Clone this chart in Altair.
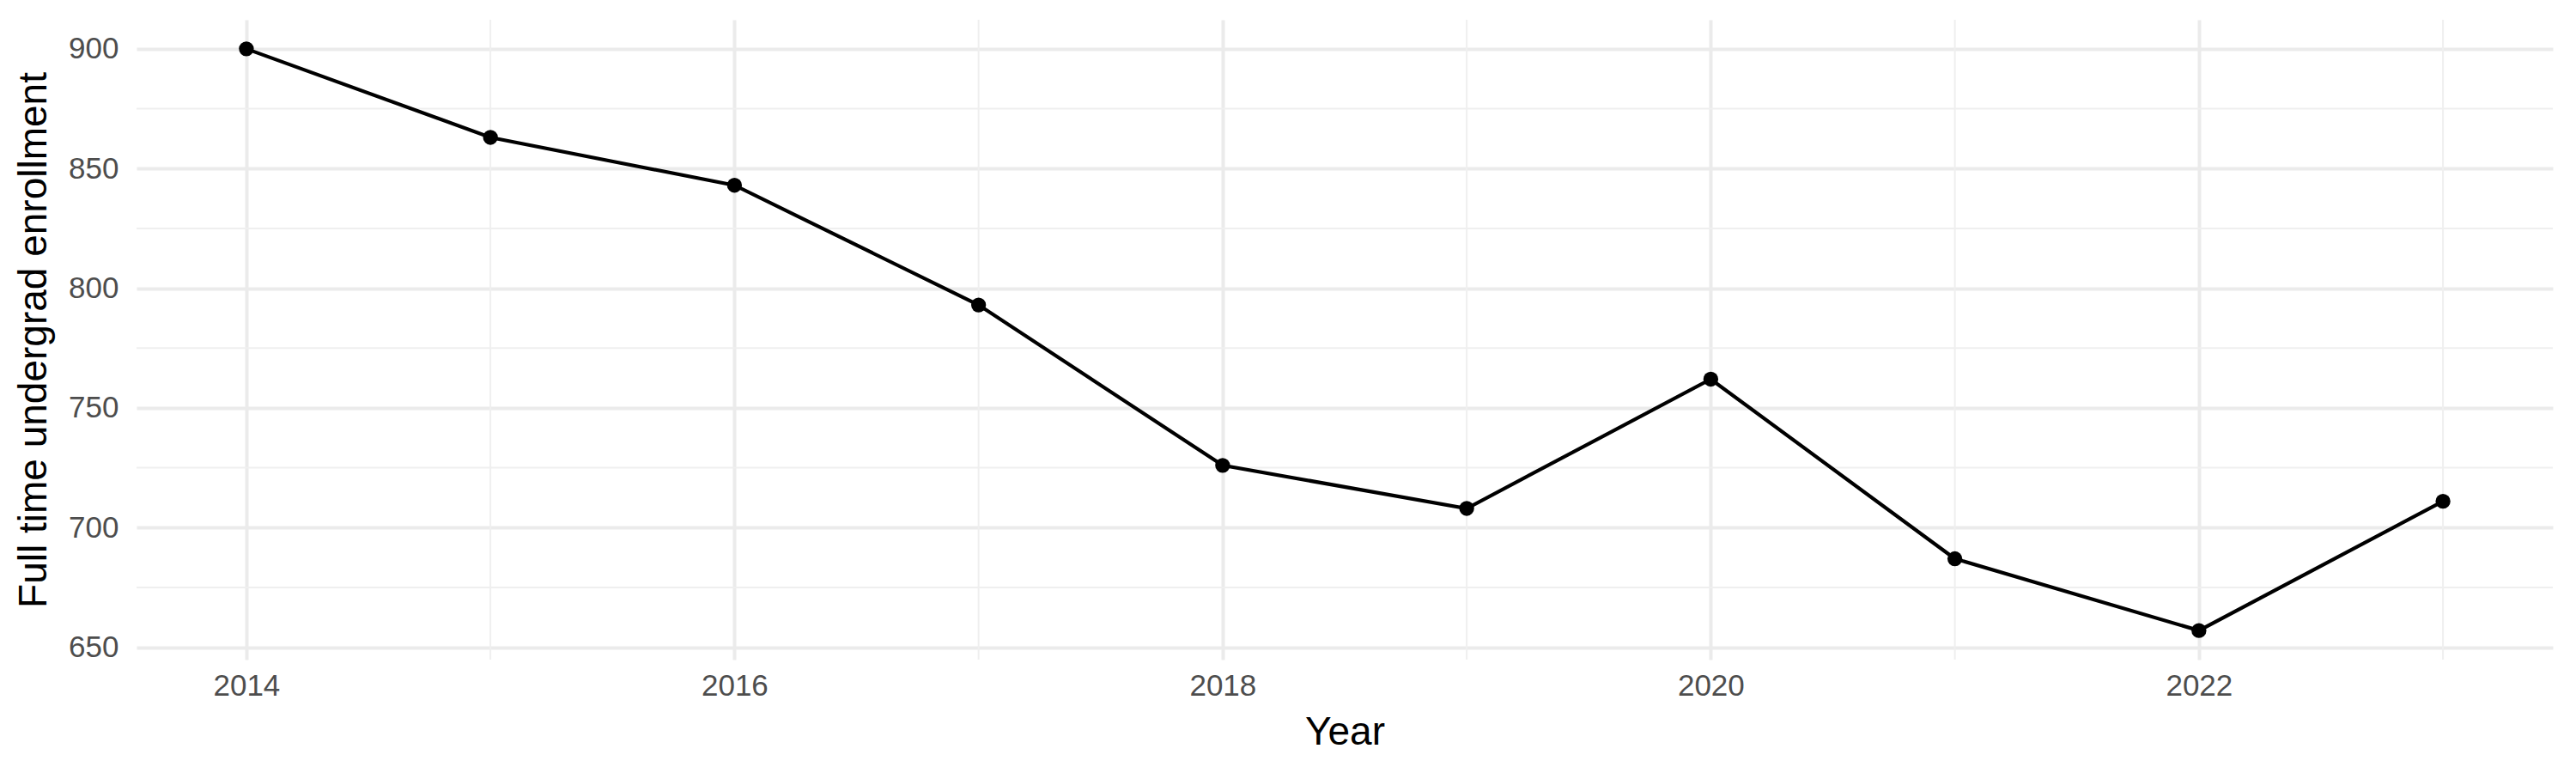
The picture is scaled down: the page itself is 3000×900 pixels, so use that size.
import altair as alt
import pandas as pd

# enrollment by year
years = [2014, 2015, 2016, 2017, 2018, 2019, 2020, 2021, 2022, 2023]
enrollment = [900, 863, 843, 793, 726, 708, 762, 687, 657, 711]

# axis breaks (ggplot style major / minor)
x_major = [2014, 2016, 2018, 2020, 2022]
x_minor = [2015, 2017, 2019, 2021, 2023]
y_major = [650, 700, 750, 800, 850, 900]
y_minor = [675, 725, 775, 825, 875]

df = pd.DataFrame({"Year": years, "Enrollment": enrollment})
xminor_df = pd.DataFrame({"Year": x_minor})
yminor_df = pd.DataFrame({"Enrollment": y_minor})

FONT = "Liberation Sans"
x_scale = alt.Scale(domain=[2013.55, 2023.45], nice=False, zero=False)
y_scale = alt.Scale(domain=[644.85, 912.15], nice=False, zero=False)

xgrid = alt.Chart(xminor_df).mark_rule(color="#EFEFEF", strokeWidth=2).encode(
    x=alt.X("Year:Q", scale=x_scale)
)
ygrid = alt.Chart(yminor_df).mark_rule(color="#EFEFEF", strokeWidth=2).encode(
    y=alt.Y("Enrollment:Q", scale=y_scale)
)

base = alt.Chart(df).encode(
    x=alt.X("Year:Q", scale=x_scale, title="Year",
            axis=alt.Axis(values=x_major, format="d", labelPadding=13, titlePadding=14)),
    y=alt.Y("Enrollment:Q", scale=y_scale, title="Full time undergrad enrollment",
            axis=alt.Axis(values=y_major, format="d", labelPadding=21, titlePadding=16)),
)
line = base.mark_line(color="black", strokeWidth=4.2)
points = base.mark_circle(color="black", size=300, opacity=1)

chart = alt.layer(xgrid, ygrid, line, points).properties(
    width=2814, height=745,
    autosize=alt.AutoSizeParams(type="none"),
    padding={"left": 151, "top": 15, "right": 19, "bottom": 124},
)
chart = chart.configure_view(stroke=None)
chart = chart.configure_axis(
    domain=False, ticks=False,
    grid=True, gridColor="#EBEBEB", gridWidth=4,
    labelFont=FONT, labelFontSize=35, labelColor="#4D4D4D",
    titleFont=FONT, titleFontSize=46, titleFontWeight="normal", titleColor="black",
)
chart.save("out.html", embed_options={"renderer": "svg", "actions": False})
